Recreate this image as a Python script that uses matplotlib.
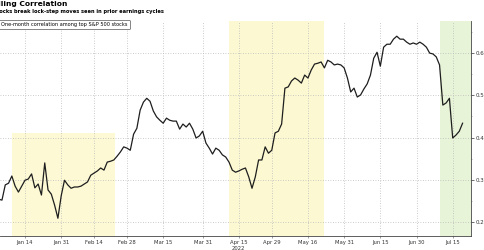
# rolling correlation chart, weekday x axis
import numpy as np
import matplotlib
matplotlib.use("Agg")
import matplotlib.pyplot as plt
import pandas as pd

# data: one value per weekday, Jan 4 - Jul 20 2022
dates = pd.bdate_range("2022-01-04", "2022-07-20")
corr = [
    0.254, 0.252, 0.288, 0.292, 0.309, 0.285, 0.271, 0.285,
    0.299, 0.302, 0.314, 0.281, 0.290, 0.264, 0.340, 0.276, 0.266, 0.240, 0.209,
    0.262, 0.299, 0.288, 0.280, 0.283, 0.283, 0.285, 0.290, 0.295, 0.311, 0.316,
    0.321, 0.328, 0.323, 0.342, 0.344, 0.347, 0.356, 0.366, 0.378, 0.375, 0.370,
    0.408, 0.422, 0.465, 0.484, 0.493, 0.486, 0.463, 0.449, 0.441, 0.434,
    0.446, 0.441, 0.439, 0.439, 0.420, 0.432, 0.425, 0.434, 0.420, 0.399, 0.404, 0.415,
    0.387, 0.375, 0.361, 0.375, 0.370, 0.359, 0.354, 0.342, 0.323, 0.318, 0.321,
    0.325, 0.328, 0.307, 0.280, 0.307, 0.347, 0.347, 0.378, 0.363, 0.370,
    0.411, 0.415, 0.432, 0.517, 0.520, 0.534, 0.541, 0.536, 0.529, 0.548, 0.541,
    0.560, 0.574, 0.576, 0.579, 0.565, 0.583, 0.579, 0.572, 0.574, 0.572, 0.565,
    0.541, 0.508, 0.517, 0.496, 0.501, 0.515, 0.527, 0.548, 0.588, 0.602, 0.569,
    0.614, 0.621, 0.621, 0.633, 0.640, 0.633, 0.633, 0.626, 0.621, 0.624, 0.621,
    0.626, 0.621, 0.614, 0.600, 0.598, 0.591, 0.572, 0.477, 0.482, 0.493, 0.399, 0.406, 0.415, 0.434,
]

tick_dates = ["2022-01-14", "2022-01-31", "2022-02-14", "2022-02-28", "2022-03-15",
              "2022-03-31", "2022-04-15", "2022-04-29", "2022-05-16", "2022-05-31",
              "2022-06-15", "2022-06-30", "2022-07-15"]
tick_labels = ["Jan 14", "Jan 31", "Feb 14", "Feb 28", "Mar 15", "Mar 31", "Apr 15\n2022",
               "Apr 29", "May 16", "May 31", "Jun 15", "Jun 30", "Jul 15"]

# earnings seasons
season1 = ("2022-01-10", "2022-02-22")
season1_top = 0.41
season2 = ("2022-04-12", "2022-05-23")
season3_start = "2022-07-11"

title = "Rolling Correlation"
subtitle = "Stocks break lock-step moves seen in prior earnings cycles"
series_name = "One-month correlation among top S&P 500 stocks"


def pos(d):
    return dates.get_loc(pd.Timestamp(d))


x = np.arange(len(dates))
ymin, ymax = 0.167, 0.676
xmin, xmax = 0.4, 143.56

fig = plt.figure(figsize=(4.85, 2.5), dpi=100)
ax = fig.add_axes([0, 14 / 250, 471 / 485, 215 / 250])
ax.set_xlim(xmin, xmax)
ax.set_ylim(ymin, ymax)

ax.axvspan(pos(season1[0]), pos(season1[1]) + 0.5, ymax=(season1_top - ymin) / (ymax - ymin),
           color="#fcf9d4", lw=0, zorder=0)
ax.axvspan(pos(season2[0]), pos(season2[1]), color="#fcf9d2", lw=0, zorder=0)
ax.axvspan(pos(season3_start), xmax, color="#e7f4d8", lw=0, zorder=0)

ax.plot(x, corr, color="#1e1e1e", lw=0.9, label=series_name, zorder=3)

ax.set_xticks([pos(d) for d in tick_dates])
ax.set_xticklabels(tick_labels, fontsize=3.8, color="#333333", linespacing=1.1)
ax.set_yticks([0.2, 0.3, 0.4, 0.5, 0.6])
ax.set_yticks(np.arange(0.2, 0.66, 0.05), minor=True)
ax.yaxis.tick_right()
ax.tick_params(axis="y", which="major", labelsize=4, length=2, width=0.5, pad=1, colors="#333333")
ax.tick_params(axis="y", which="minor", length=1, width=0.4, colors="#777777")
ax.tick_params(axis="x", length=1.5, width=0.4, pad=1.5, colors="#555555")
for t in ax.get_xticklabels():
    t.set_color("#333333")

ax.grid(True, which="major", linestyle=(0, (1, 2)), color="#bbbbbb", lw=0.6)
for s in ["top", "left"]:
    ax.spines[s].set_visible(False)
for s in ["right", "bottom"]:
    ax.spines[s].set_color("#444444")
    ax.spines[s].set_linewidth(0.6)

# the reference is cropped on the left, so the headline starts off-canvas
fig.text(-0.027, 1 - 1 / 250, title, fontsize=5.4, fontweight="bold", va="top", ha="left")
fig.text(-0.014, 1 - 9.5 / 250, subtitle, fontsize=3.7, fontweight="bold", va="top", ha="left")

leg = ax.legend(loc="upper left", bbox_to_anchor=(-0.012, 1 - 19.5 / 250),
                bbox_transform=fig.transFigure, borderaxespad=0, fontsize=3.6,
                handlelength=0.5, handletextpad=0.5, borderpad=0.45, fancybox=True,
                edgecolor="#555555", framealpha=1)
leg.get_frame().set_linewidth(0.5)
leg.legend_handles[0].set_linewidth(2)

fig.savefig("out.png", dpi=100)
